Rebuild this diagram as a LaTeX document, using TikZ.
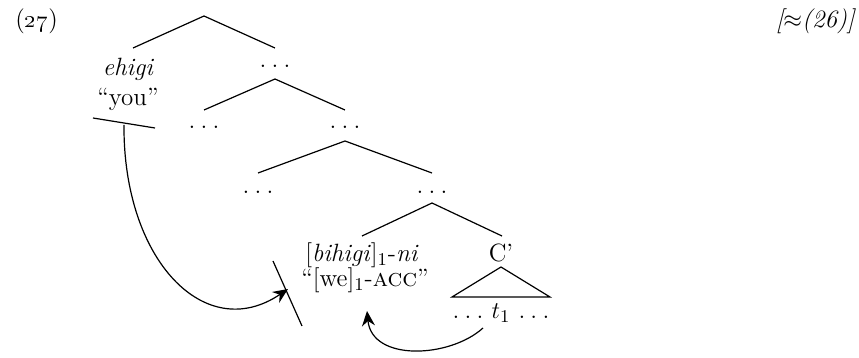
\documentclass[tikz,border=0pt]{standalone}
\usetikzlibrary{arrows.meta}
\newcommand{\mydots}{.\kern2.6pt.\kern2.6pt.}
\begin{document}
\begin{tikzpicture}[x=0.5pt,y=-0.5pt,
  every node/.style={font=\fontsize{12.5}{15}\selectfont, inner sep=0pt},
  lab/.style={anchor=base},
  branch/.style={line width=0.6pt},
  bar/.style={line width=0.6pt},
  mv/.style={line width=0.6pt, -{Stealth[length=7.5pt,width=6.5pt,inset=2.5pt]}}]
\useasboundingbox (0,0) rectangle (859,358);
% example number and reference
\node[anchor=base west] (num) at (15,28) {(\oldstylenums{27})};
\node[anchor=base east] (ref) at (855,28) {\itshape [$\approx$(26)]};
% level 1
\coordinate (a1) at (204,16);
\coordinate (a1L) at (133,48);
\coordinate (a1R) at (275,48);
\draw[branch] (a1L) -- (a1) -- (a1R);
\node[lab] (ehigi) at (128,76) {\itshape ehigi};
\node[lab] (you) at (128,106) {``you''};
\node[lab] (d2) at (275,68) {\mydots};
% level 2
\coordinate (a2) at (275,79);
\coordinate (a2L) at (204,110);
\coordinate (a2R) at (345,110);
\draw[branch] (a2L) -- (a2) -- (a2R);
\node[lab] (d3L) at (204,129) {\mydots};
\node[lab] (d3R) at (345,129) {\mydots};
% level 3
\coordinate (a3) at (345,141);
\coordinate (a3L) at (258,173);
\coordinate (a3R) at (432,173);
\draw[branch] (a3L) -- (a3) -- (a3R);
\node[lab] (d4L) at (258,193.5) {\mydots};
\node[lab] (d4R) at (432,193.5) {\mydots};
% level 4
\coordinate (a4) at (432,203);
\coordinate (a4L) at (362,236);
\coordinate (a4R) at (502,236);
\draw[branch] (a4L) -- (a4) -- (a4R);
\node[lab] (bihigi) at (362,262) {[\textit{bihigi}]$_1$-\textit{ni}};
\node[lab] (we) at (365,287) {``[we]$_1$-\textsc{acc}''};
\node[lab] (cbar) at (501,262) {C'};
% triangle
\coordinate (t) at (501,267);
\coordinate (tL) at (452,297);
\coordinate (tR) at (550,297);
\draw[branch] (t) -- (tL) -- (tR) -- cycle;
\node[lab] (trace) at (501,319) {\mydots\ $t_1$ \mydots};
% bars
\coordinate (b1a) at (93,118);
\coordinate (b1b) at (155,128);
\draw[bar] (b1a) -- (b1b);
\coordinate (b2a) at (273,261);
\coordinate (b2b) at (302,326);
\draw[bar] (b2a) -- (b2b);
% movement arrows
\coordinate (s1) at (124,125);
\coordinate (e1) at (288,289);
\draw[mv] (s1) .. controls (123,260) and (205,345) .. (e1);
\coordinate (s2) at (483,328);
\coordinate (e2) at (367,311);
\draw[mv] (s2) .. controls (450,358) and (372,362) .. (e2);
\end{tikzpicture}
\end{document}
